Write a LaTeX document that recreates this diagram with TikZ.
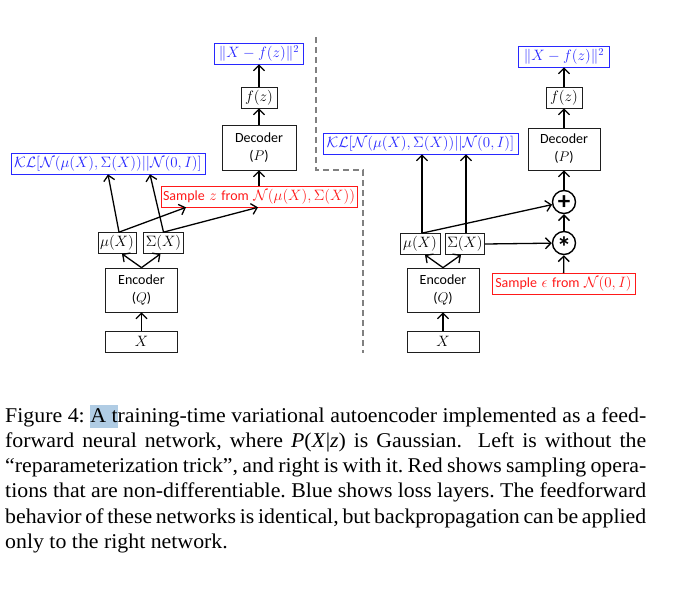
\RequirePackage{fix-cm}
\documentclass[tikz,border=0pt]{standalone}
\usepackage{fontspec}
\newfontfamily\sansf{Carlito}
\newfontfamily\capf[FakeStretch=1.04]{Liberation Serif}
\usetikzlibrary{arrows.meta,calc}
\definecolor{lblue}{RGB}{40,40,255}
\definecolor{lred}{RGB}{255,25,25}
\definecolor{dgray}{RGB}{128,128,128}
\definecolor{selblue}{RGB}{176,204,228}
\definecolor{bord}{RGB}{30,30,30}
\newcommand\mfont{\fontsize{15}{18}\selectfont}
\newcommand\stx[1]{{\sansf\fontsize{14}{17}\selectfont #1}}
\newcommand\hlsel[1]{\setbox0=\hbox{#1}\rlap{\color{selblue}\rule[-6pt]{\wd0}{23pt}}\copy0}
\newcommand\capline[1]{\hbox to 641pt{#1}}
\tikzset{
  bx/.style={draw=bord, line width=0.7pt, inner sep=2pt, minimum height=21pt, font=\mfont},
  bbx/.style={bx, draw=lblue, text=lblue},
  rbx/.style={bx, draw=lred, text=lred},
  big/.style={bx, minimum width=72pt, minimum height=44pt, align=center, font=\sansf\fontsize{14}{18}\selectfont},
  arr/.style={line width=1.3pt, -{Straight Barb[length=5.5pt,width=11pt,line width=1.3pt]}},
  circ/.style={circle, draw=black, line width=1.4pt, minimum size=23pt, inner sep=0pt, font=\sansf\bfseries},
  sep/.style={dgray, line width=1.4pt, dash pattern=on 6pt off 4pt}
}
\begin{document}
\begin{tikzpicture}[x=1pt,y=-1pt]
\useasboundingbox (0,0) rectangle (673,590);
% ---------- left network ----------
\node[bbx, minimum width=89pt] (lossL) at (259,53.5) {$\|X-f(z)\|^2$};
\node[bx, minimum width=36pt] (fzL) at (259,97.5) {$f(z)$};
\node[big, minimum width=74pt, minimum height=45pt] (decL) at (259,147.5) {Decoder\\($P$)};
\node[bbx, minimum width=194pt] (klL) at (108,163.5) {$\mathcal{KL}[\mathcal{N}(\mu(X),\Sigma(X))||\mathcal{N}(0,I)]$};
\node[rbx, minimum width=194pt] (sampL) at (259,196.5) {\stx{Sample} $z$ \stx{from} $\mathcal{N}(\mu(X),\Sigma(X))$};
\node[bx, minimum width=38pt] (muL) at (117,243) {$\mu(X)$};
\node[bx, minimum width=39pt] (sigL) at (163.5,243) {$\Sigma(X)$};
\node[big] (encL) at (141.5,290) {Encoder\\($Q$)};
\node[bx, minimum width=72pt] (xL) at (141.5,341.5) {$X$};
\draw[arr] (xL) -- (encL);
\draw[arr] (encL.north) -- ([xshift=5pt]muL.south);
\draw[arr] (encL.north) -- ([xshift=-3pt]sigL.south);
\draw[arr] ([xshift=2pt]muL.north) -- (klL.south);
\draw[arr] (sigL.north) -- ([xshift=42pt]klL.south);
\draw[arr] ([xshift=2pt]muL.north) -- ([xshift=-73pt]sampL.south);
\draw[arr] (sigL.north) -- ([xshift=-1pt]sampL.south);
\draw[arr] (sampL) -- (decL);
\draw[arr] (decL) -- (fzL);
\draw[arr] (fzL) -- (lossL);
% ---------- separator ----------
\coordinate (s1) at (316,37);
\coordinate (s2) at (316,170);
\coordinate (s3) at (363,170);
\coordinate (s4) at (363,353);
\draw[sep] (s1) -- (s2) -- (s3) -- (s4);
% ---------- right network ----------
\node[bbx, minimum width=91pt] (lossR) at (564,56.5) {$\|X-f(z)\|^2$};
\node[bx, minimum width=36pt] (fzR) at (564,97.5) {$f(z)$};
\node[big, minimum width=72pt, minimum height=42pt] (decR) at (564,149) {Decoder\\($P$)};
\node[bbx, minimum width=195pt] (klR) at (420.5,143.5) {$\mathcal{KL}[\mathcal{N}(\mu(X),\Sigma(X))||\mathcal{N}(0,I)]$};
\node[circ] (plus) at (564,202) {\fontsize{25}{25}\selectfont\raisebox{-0.3em}[0pt][0pt]{+}};
\node[circ] (star) at (564,243) {\fontsize{29}{29}\selectfont\raisebox{-0.5em}[0pt][0pt]{*}};
\node[bx, minimum width=40pt] (muR) at (420,244) {$\mu(X)$};
\node[bx, minimum width=38pt] (sigR) at (465,244) {$\Sigma(X)$};
\node[big] (encR) at (443,290) {Encoder\\($Q$)};
\node[bx, minimum width=72pt] (xR) at (443,341.5) {$X$};
\node[rbx, minimum width=143pt] (eps) at (563.5,284) {\stx{Sample} $\epsilon$ \stx{from} $\mathcal{N}(0,I)$};
\coordinate (muRt) at ([xshift=2pt]muR.north);
\coordinate (sigRt) at ([xshift=1pt]sigR.north);
\draw[arr] (xR) -- (encR);
\draw[arr] (encR.north) -- ([xshift=5pt]muR.south);
\draw[arr] (encR.north) -- ([xshift=-4pt]sigR.south);
\draw[arr] (muRt) -- (muRt |- klR.south);
\draw[arr] (sigRt) -- (sigRt |- klR.south);
\draw[arr] (muRt) -- (plus);
\draw[arr] (sigR.east) -- (star);
\draw[arr] (eps) -- (star);
\draw[arr] (star) -- (plus);
\draw[arr] (plus) -- (decR);
\draw[arr] (decR) -- (fzR);
\draw[arr] (fzR) -- (lossR);
% ---------- caption ----------
\node[anchor=base west, inner sep=0pt] (cap) at (5,422) {\vtop{\capf\fontsize{21}{25.3}\selectfont\frenchspacing\baselineskip=25.3pt
\capline{Figure 4: \hlsel{A t}raining-time variational autoencoder implemented as a feed-}
\capline{forward neural network, where \textit{P}(\textit{X}|\textit{z}) is Gaussian. \ Left is without the}
\capline{“reparameterization trick”, and right is with it. Red shows sampling opera-}
\capline{tions that are non-differentiable. Blue shows loss layers. The feedforward}
\capline{behavior of these networks is identical, but backpropagation can be applied}
\hbox{only to the right network.}}};
\end{tikzpicture}
\end{document}
